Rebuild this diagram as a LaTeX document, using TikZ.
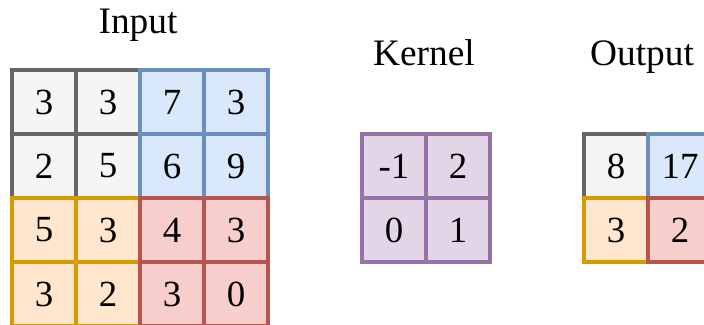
\documentclass[tikz,border=0pt]{standalone}
\usepackage{fontspec}
\setmainfont{Liberation Serif}
\begin{document}
\begin{tikzpicture}[x=1bp,y=-1bp,
  cell/.style={draw, line width=3.4bp, minimum size=64bp, inner sep=0pt,
    font=\fontsize{37}{37}\selectfont},
  graycell/.style={cell, fill={rgb,255:red,245;green,245;blue,245}, draw={rgb,255:red,102;green,102;blue,102}},
  bluecell/.style={cell, fill={rgb,255:red,218;green,232;blue,252}, draw={rgb,255:red,108;green,142;blue,191}},
  orangecell/.style={cell, fill={rgb,255:red,255;green,230;blue,204}, draw={rgb,255:red,215;green,155;blue,0}},
  redcell/.style={cell, fill={rgb,255:red,248;green,206;blue,204}, draw={rgb,255:red,184;green,84;blue,80}},
  purplecell/.style={cell, fill={rgb,255:red,225;green,213;blue,231}, draw={rgb,255:red,150;green,115;blue,166}},
  title/.style={anchor=base, inner sep=0pt, font=\fontsize{37.5}{37.5}\selectfont}]
\useasboundingbox (0,0) rectangle (704,324);
\fill[white] (0,0) rectangle (704,324);

% titles
\node[title] (tin) at (138,33) {Input};
\node[title] (tker) at (424,65) {Kernel};
\node[title] (tout) at (642,65) {Output};

% input 4x4 grid, drawn quadrant by quadrant
\node[graycell] (i11) at (44,102) {3};
\node[graycell] (i12) at (108,102) {3};
\node[graycell] (i21) at (44,166) {2};
\node[graycell] (i22) at (108,166) {5};
\node[bluecell] (i13) at (172,102) {7};
\node[bluecell] (i14) at (236,102) {3};
\node[bluecell] (i23) at (172,166) {6};
\node[bluecell] (i24) at (236,166) {9};
\node[orangecell] (i31) at (44,230) {5};
\node[orangecell] (i32) at (108,230) {3};
\node[orangecell] (i41) at (44,294) {3};
\node[orangecell] (i42) at (108,294) {2};
\node[redcell] (i33) at (172,230) {4};
\node[redcell] (i34) at (236,230) {3};
\node[redcell] (i43) at (172,294) {3};
\node[redcell] (i44) at (236,294) {0};

% kernel 2x2
\node[purplecell] (k11) at (394,166) {-1};
\node[purplecell] (k12) at (458,166) {2};
\node[purplecell] (k21) at (394,230) {0};
\node[purplecell] (k22) at (458,230) {1};

% output 2x2
\node[graycell] (o11) at (616,166) {8};
\node[bluecell] (o12) at (680,166) {17};
\node[orangecell] (o21) at (616,230) {3};
\node[redcell] (o22) at (680,230) {2};
\end{tikzpicture}
\end{document}
